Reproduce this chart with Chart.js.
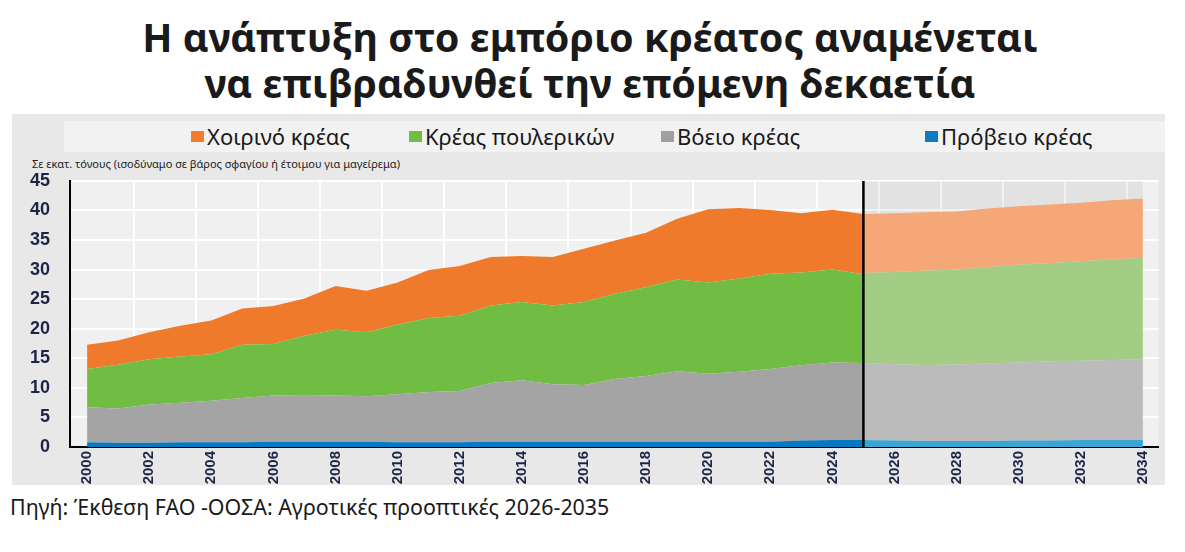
<!DOCTYPE html>
<html>
<head>
<meta charset="utf-8">
<script src="https://cdn.jsdelivr.net/npm/chart.js@4.4.1/dist/chart.umd.min.js"></script>
<style>
  html, body { margin: 0; padding: 0; background: #fff; }
  body { width: 1185px; height: 552px; position: relative; overflow: hidden; font-family: "Noto Sans", sans-serif; }
  .title { position: absolute; left: 0; top: 14px; width: 1180px; text-align: center; font-weight: bold; font-size: 39.5px; line-height: 46px; color: #1a1a1a; }
  .panel { position: absolute; left: 12px; top: 114px; width: 1153px; height: 371px; background: #e8e8e8; }
  .legend { position: absolute; left: 52px; top: 7px; width: 1101px; height: 31px; background: #f2f2f2; }
  .legend span { position: absolute; top: 0; font-size: 22px; line-height: 31px; color: #1a1a1a; white-space: nowrap; }
  .legend i { position: absolute; top: 10px; width: 13px; height: 11px; }
  .unit { position: absolute; left: 20px; top: 42px; font-size: 11px; color: #222; }
  .chartbox { position: absolute; left: 0; top: 36px; width: 1153px; height: 335px; }
  .source { position: absolute; left: 10px; top: 492px; font-size: 21.4px; color: #1a1a1a; }
</style>
</head>
<body>
<div class="title">Η ανάπτυξη στο εμπόριο κρέατος αναμένεται<br>να επιβραδυνθεί την επόμενη δεκαετία</div>
<div class="panel">
  <div class="legend" id="legend"></div>
  <div class="unit">Σε εκατ. τόνους (ισοδύναμο σε βάρος σφαγίου ή έτοιμου για μαγείρεμα)</div>
  <div class="chartbox"><canvas id="chart"></canvas></div>
</div>
<div class="source">Πηγή: Έκθεση FAO -ΟΟΣΑ: Αγροτικές προοπτικές 2026-2035</div>

<script>
// Years
const histYears = [2000, 2001, 2002, 2003, 2004, 2005, 2006, 2007, 2008, 2009, 2010, 2011, 2012,
  2013, 2014, 2015, 2016, 2017, 2018, 2019, 2020, 2021, 2022, 2023, 2024, 2025];
const projYears = [2025, 2026, 2027, 2028, 2029, 2030, 2031, 2032, 2033, 2034];

// Historical values (million tonnes)
const sheepHist = [0.8, 0.7, 0.7, 0.8, 0.8, 0.8, 0.9, 0.9, 0.9, 0.9, 0.8, 0.8, 0.8,
  0.9, 0.9, 0.9, 0.9, 0.9, 0.9, 0.9, 0.9, 0.9, 0.9, 1.1, 1.2, 1.2];
const beefHist = [5.9, 5.8, 6.5, 6.7, 7.0, 7.5, 7.8, 7.9, 7.8, 7.7, 8.1, 8.5, 8.65,
  9.9, 10.4, 9.7, 9.6, 10.6, 11.1, 11.9, 11.5, 11.8, 12.3, 12.7, 13.1, 13.0];
const poultryHist = [6.5, 7.4, 7.65, 7.8, 7.9, 9.0, 8.7, 10.0, 11.1, 10.8, 11.8, 12.5, 12.75,
  13.1, 13.2, 13.3, 14.0, 14.4, 15.0, 15.5, 15.4, 15.8, 16.1, 15.7, 15.7, 15.0];
const porkHist = [4.1, 4.1, 4.55, 5.2, 5.7, 6.1, 6.45, 6.3, 7.4, 7.0, 7.1, 8.1, 8.4,
  8.2, 7.8, 8.2, 9.0, 9.0, 9.2, 10.3, 12.4, 11.9, 10.75, 10.0, 10.1, 10.2];

// Projections
const sheepProj = [1.2, 1.1, 1.0, 1.0, 1.0, 1.1, 1.1, 1.2, 1.2, 1.2];
const beefProj = [13.0, 12.9, 12.85, 12.95, 13.1, 13.2, 13.4, 13.4, 13.5, 13.65];
const poultryProj = [15.2, 15.6, 15.95, 16.05, 16.3, 16.5, 16.6, 16.8, 17.0, 17.15];
const porkProj = [10.0, 9.9, 9.9, 9.8, 9.9, 9.9, 9.9, 9.9, 10.0, 10.0];

const seriesNames = ['Χοιρινό κρέας', 'Κρέας πουλερικών', 'Βόειο κρέας', 'Πρόβειο κρέας'];
const xTicks = [2000, 2002, 2004, 2006, 2008, 2010, 2012, 2014, 2016, 2018,
  2020, 2022, 2024, 2026, 2028, 2030, 2032, 2034];
const xGridLines = [2001.5, 2003.5, 2005.5, 2007.5, 2009.5, 2011.5, 2013.5, 2015.5, 2017.5,
  2019.5, 2021.5, 2023.5, 2025.5, 2027.5, 2029.5, 2031.5, 2033.5];
const projectionStart = 2025;
const yMax = 45;

const colors = {
  pork: ['#f07a2b', '#f5a778'],
  poultry: ['#71bc43', '#a3cd85'],
  beef: ['#a4a4a4', '#bbbbbb'],
  sheep: ['#0779c1', '#3ba6d3'],
};
// legend marker x positions (page px) and colours
const legendPos = [191, 409, 661, 925];
const legendColors = ['#f47c2d', '#71bc44', '#a0a0a0', '#0e7ac4'];

const legend = document.getElementById('legend');
seriesNames.forEach((name, i) => {
  const s = document.createElement('span');
  s.style.left = (legendPos[i] - 64) + 'px';
  s.style.paddingLeft = '16px';
  s.innerHTML = '<i style="left:0;background:' + legendColors[i] + '"></i>' + name;
  legend.appendChild(s);
});

function pts(xs, ys) {
  return xs.map((x, i) => ({ x: x, y: ys[i] }));
}

function area(label, xs, ys, color, stack, fill) {
  return {
    label: label,
    data: pts(xs, ys),
    backgroundColor: color,
    borderColor: color,
    borderWidth: 0,
    pointRadius: 0,
    tension: 0,
    fill: fill,
    stack: stack,
    order: 1,
  };
}

const plotBg = {
  id: 'plotBg',
  beforeDraw(chart) {
    const a = chart.chartArea;
    const ctx = chart.ctx;
    ctx.save();
    ctx.fillStyle = '#f0f0f0';
    ctx.fillRect(a.left, a.top, a.right - a.left, a.bottom - a.top);
    ctx.restore();
  },
};

new Chart(document.getElementById('chart'), {
  type: 'line',
  data: {
    datasets: [
      {
        label: 'projection-line',
        data: [{ x: projectionStart, y: 0 }, { x: projectionStart, y: yMax }],
        borderColor: '#000',
        borderWidth: 2.5,
        pointRadius: 0,
        fill: false,
        stack: 'marker',
        order: 0,
      },
      area(seriesNames[3], histYears, sheepHist, colors.sheep[0], 'hist', 'origin'),
      area(seriesNames[2], histYears, beefHist, colors.beef[0], 'hist', '-1'),
      area(seriesNames[1], histYears, poultryHist, colors.poultry[0], 'hist', '-1'),
      area(seriesNames[0], histYears, porkHist, colors.pork[0], 'hist', '-1'),
      area(seriesNames[3], projYears, sheepProj, colors.sheep[1], 'proj', 'origin'),
      area(seriesNames[2], projYears, beefProj, colors.beef[1], 'proj', '-1'),
      area(seriesNames[1], projYears, poultryProj, colors.poultry[1], 'proj', '-1'),
      area(seriesNames[0], projYears, porkProj, colors.pork[1], 'proj', '-1'),
      {
        label: 'projection-shade',
        data: pts(projYears, projYears.map(() => yMax)),
        backgroundColor: 'rgba(0,0,0,0.055)',
        borderWidth: 0,
        pointRadius: 0,
        fill: 'origin',
        stack: 'shade',
        order: 5,
      },
    ],
  },
  options: {
    responsive: true,
    maintainAspectRatio: false,
    animation: false,
    layout: { padding: { top: 10, right: 3, left: 0, bottom: 0 } },
    plugins: {
      legend: { display: false },
      tooltip: { enabled: false },
    },
    scales: {
      x: {
        type: 'linear',
        min: 1999.45,
        max: 2034.5,
        afterBuildTicks(scale) {
          scale.ticks = xTicks.map(v => ({ value: v }));
        },
        afterFit(scale) {
          scale.height = 38;
        },
        grid: { display: false, drawTicks: false },
        border: { display: true, color: '#000', width: 2 },
        ticks: {
          autoSkip: false,
          minRotation: 90,
          maxRotation: 90,
          padding: 4,
          color: '#1d2446',
          font: { family: '"Liberation Sans", Arial, sans-serif', size: 15, weight: 'bold' },
          callback: v => String(v),
        },
      },
      xg: {
        type: 'linear',
        position: 'top',
        min: 1999.45,
        max: 2034.5,
        afterBuildTicks(scale) {
          scale.ticks = xGridLines.map(v => ({ value: v }));
        },
        afterFit(scale) {
          scale.height = 0;
        },
        grid: { color: '#ffffff', lineWidth: 2, drawTicks: false },
        border: { display: false },
        ticks: { display: false },
      },
      y: {
        stacked: true,
        min: 0,
        max: yMax,
        afterFit(scale) {
          scale.width = 58;
        },
        grid: { color: '#ffffff', lineWidth: 2, drawTicks: false },
        border: { display: true, color: '#000', width: 2 },
        ticks: {
          stepSize: 5,
          padding: 20,
          color: '#1d2446',
          font: { family: '"Liberation Sans", Arial, sans-serif', size: 18, weight: 'bold' },
        },
      },
    },
  },
  plugins: [plotBg],
});
</script>
</body>
</html>
